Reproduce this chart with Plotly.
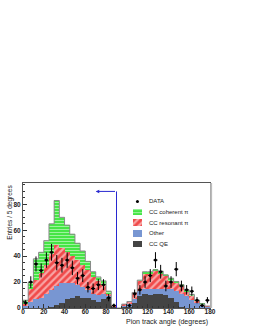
import plotly.graph_objects as go

# ---------------- data ----------------
bin_width = 5
bin_centers = [2.5 + 5 * i for i in range(36)]

cc_qe = [0, 0, 0, 0, 0, 1, 2, 4, 7, 8, 9, 8, 8, 6, 5, 7, 8, 1,
         0, 1, 1, 4, 9, 11, 10, 11, 11, 10, 8, 5, 1, 0, 0, 0, 0, 0]
other = [2, 5, 7, 8, 11, 13, 15, 15, 12, 11, 9, 8, 6, 5, 5, 4, 2, 0,
         0, 1, 2, 3, 4, 4, 5, 4, 4, 5, 7, 8, 10, 9, 6, 4, 2, 1]
cc_res = [1, 10, 15, 19, 22, 28, 32, 27, 24, 21, 19, 17, 15, 13, 11, 7, 1, 1,
          0, 1, 2, 5, 8, 12, 12, 14, 12, 10, 6, 7, 6, 4, 4, 1.5, 1, 0.5]
cc_coh = [3, 5, 16, 16, 19, 23, 34, 24, 21, 17, 13, 11, 7, 4, 3, 3, 2, 0,
          0, 0, 0, 0, 0.5, 1, 1, 0.5, 1.5, 0.5, 2, 0.5, 1, 1, 0.5, 0.5, 0.2, 0]

data_counts = [4, 20, 34, 29, 37, 43, 35, 33, 37, 31, 23, 25, 16, 15, 18, 18, 8, 2,
               None, None, 2, 11, 14, 20, 25, 37, 28, 17, 20, 30, 17, 14, 13, 6, 2, 6]
data_errors = [2, 4.5, 5.8, 5.4, 6, 6.5, 5.9, 5.7, 6, 5.6, 4.8, 5, 4, 3.9, 4.2, 4.2, 2.8, 1.4,
               None, None, 1.4, 3.3, 3.7, 4.5, 5, 6.1, 5.3, 4.1, 4.5, 5.5, 4.1, 3.7, 3.6, 2.4, 1.4, 2.4]

legend_labels = ["DATA", "CC coherent \u03c0", "CC resonant \u03c0", "Other", "CC QE"]

x_ticks = [0, 20, 40, 60, 80, 100, 120, 140, 160, 180]
y_ticks = [0, 20, 40, 60, 80]

cut_angle = 90
cut_height = 90
arrow_length = 20

# ---------------- styles ----------------
FONT = "Liberation Sans, Arial, sans-serif"
col_qe = "#444444"
col_other = "#7896d2"
col_res_bg = "#f04a4a"
col_coh_bg = "#3ce43c"

styles = {
    "CC QE": dict(color=col_qe),
    "Other": dict(color=col_other),
    "CC resonant \u03c0": dict(color=col_res_bg,
                               pattern=dict(shape="/", fgcolor="white", bgcolor=col_res_bg,
                                            size=5, solidity=0.45, fillmode="overlay")),
    "CC coherent \u03c0": dict(color=col_coh_bg,
                               pattern=dict(shape="-", fgcolor="white", bgcolor=col_coh_bg,
                                            size=3, solidity=0.4, fillmode="overlay")),
}

fig = go.Figure()

stack = [("CC QE", cc_qe), ("Other", other), ("CC resonant \u03c0", cc_res), ("CC coherent \u03c0", cc_coh)]
for name, vals in stack:
    fig.add_trace(go.Bar(
        x=bin_centers, y=vals, width=bin_width, name=name,
        marker=dict(line=dict(width=0), **styles[name]),
        showlegend=False, hoverinfo="skip",
    ))

# outline of the total stack (step line)
totals = [a + b + c + d for a, b, c, d in zip(cc_qe, other, cc_res, cc_coh)]
edges_x = [c - bin_width / 2 for c in bin_centers] + [bin_centers[-1] + bin_width / 2]
fig.add_trace(go.Scatter(
    x=edges_x, y=totals + [totals[-1]], mode="lines",
    line=dict(shape="hv", color="#8a8a8a", width=1),
    showlegend=False, hoverinfo="skip",
))

# data points
fig.add_trace(go.Scatter(
    x=bin_centers, y=data_counts, mode="markers",
    marker=dict(color="black", size=3),
    error_y=dict(type="data", array=data_errors, color="black", thickness=1, width=0),
    error_x=dict(type="constant", value=2, color="black", thickness=1, width=0),
    showlegend=False, hoverinfo="skip",
))

# cut line with arrow
fig.add_shape(type="line", x0=cut_angle, x1=cut_angle, y0=0, y1=cut_height,
              line=dict(color="#2828d0", width=1), xref="x", yref="y")
fig.add_annotation(x=cut_angle - arrow_length, y=cut_height, ax=cut_angle, ay=cut_height,
                   xref="x", yref="y", axref="x", ayref="y", text="", showarrow=True,
                   arrowhead=2, arrowsize=0.7, arrowwidth=1, arrowcolor="#2828d0")

# ---------------- hand-made legend (compact rows) ----------------
leg_styles = [None, styles["CC coherent \u03c0"], styles["CC resonant \u03c0"],
              styles["Other"], styles["CC QE"]]
for i, lab in enumerate(legend_labels):
    if i == 0:
        fig.add_trace(go.Scatter(x=[0.5], y=[i], mode="markers", xaxis="x2", yaxis="y2",
                                 marker=dict(color="black", size=3),
                                 showlegend=False, hoverinfo="skip"))
    else:
        fig.add_trace(go.Bar(x=[1], y=[i], orientation="h", width=0.62, xaxis="x2", yaxis="y2",
                             marker=dict(line=dict(width=0), **leg_styles[i]),
                             showlegend=False, hoverinfo="skip"))
    fig.add_annotation(x=1.6, y=i, xref="x2", yref="y2", text=lab, showarrow=False,
                       xanchor="left", yanchor="middle",
                       font=dict(family=FONT, size=6, color="#222"))

fig.update_layout(
    width=253, height=327, autosize=False,
    margin=dict(l=23, r=43, t=183, b=15, pad=0),
    paper_bgcolor="white", plot_bgcolor="white",
    barmode="stack", bargap=0,
    showlegend=False,
    font=dict(family=FONT, size=6, color="#222"),
    xaxis=dict(range=[0, 180], tickvals=x_ticks, ticks="inside", ticklen=4, tickwidth=1,
               tickcolor="#333", showline=True, linecolor="#555", linewidth=1, mirror=True,
               showgrid=False, zeroline=False, ticklabelstandoff=-3,
               tickfont=dict(family=FONT, size=6.5, color="#222", weight="bold"),
               minor=dict(ticks="inside", ticklen=2, dtick=5, tickcolor="#333", showgrid=False)),
    yaxis=dict(range=[0, 96.5], tickvals=y_ticks, ticks="inside", ticklen=4, tickwidth=1,
               tickcolor="#333", showline=True, linecolor="#555", linewidth=1, mirror=True,
               showgrid=False, zeroline=False,
               tickfont=dict(family=FONT, size=6.5, color="#222", weight="bold"),
               minor=dict(ticks="inside", ticklen=2, dtick=5, tickcolor="#333", showgrid=False)),
    xaxis2=dict(domain=[0.588, 1.0], range=[0, 8.56], anchor="y2", visible=False, fixedrange=True),
    yaxis2=dict(domain=[0.469, 0.895], range=[4.5, -0.5], anchor="x2", visible=False, fixedrange=True),
)

# axis titles
fig.add_annotation(x=1, y=-0.06, xref="paper", yref="paper", text="Pion track angle (degrees)",
                   showarrow=False, xanchor="right", yanchor="top",
                   font=dict(family=FONT, size=7, color="#222"))
fig.add_annotation(x=-0.105, y=1, xref="paper", yref="paper", text="Entries / 5 degrees",
                   showarrow=False, textangle=-90, xanchor="left", yanchor="top",
                   font=dict(family=FONT, size=6.5, color="#222"))

# light shadow along the right frame
fig.add_shape(type="line", x0=1.006, x1=1.006, y0=0, y1=1, xref="paper", yref="paper",
              line=dict(color="#bbbbbb", width=2))

fig.write_html("out.html", config={"displayModeBar": False},
               post_script="document.body.style.margin='0';document.body.style.padding='0';")
